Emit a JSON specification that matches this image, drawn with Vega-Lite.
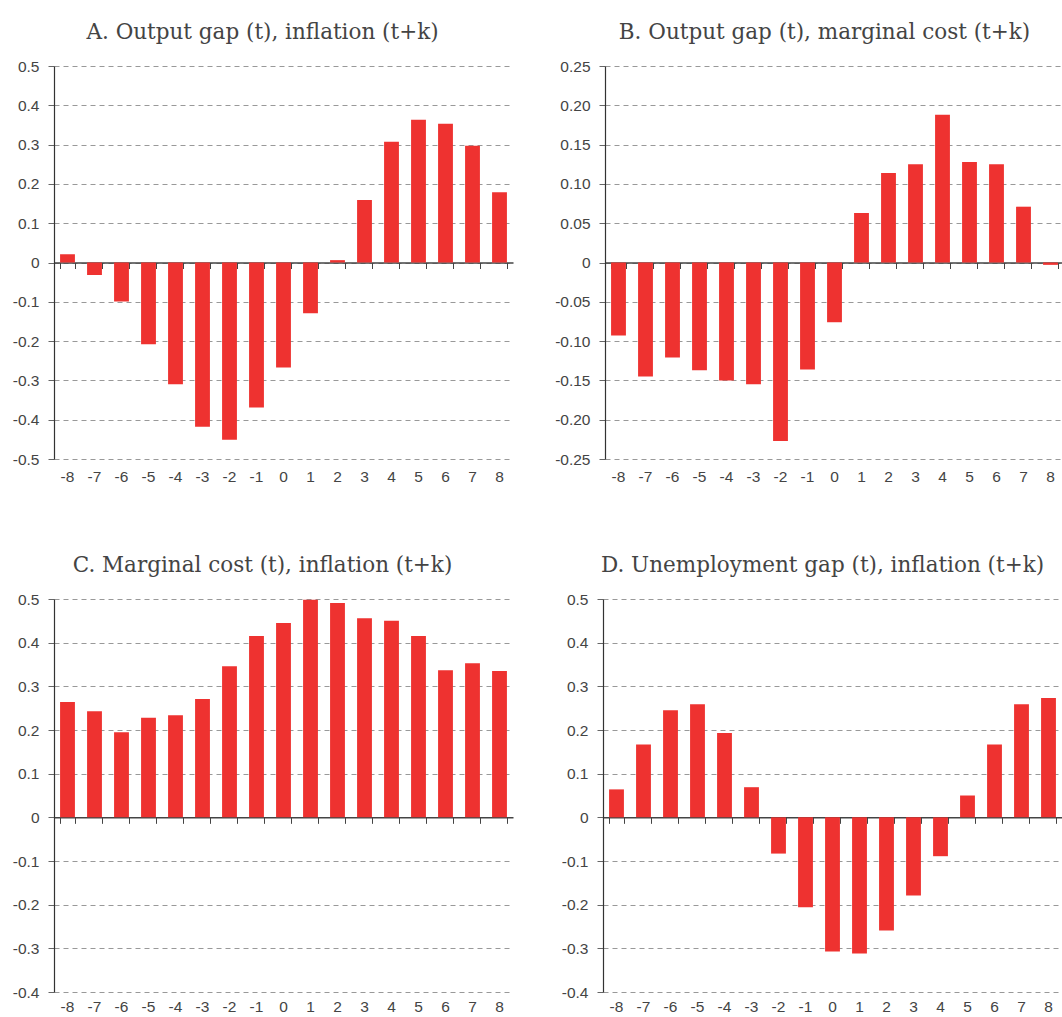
{
  "$schema": "https://vega.github.io/schema/vega-lite/v6.json",
  "padding": {"left": 12, "top": 21, "right": 0, "bottom": 0},
  "background": "white",
  "config": {
    "view": {"stroke": null},
    "font": "Liberation Sans",
    "title": {"font": "DejaVu Serif", "fontSize": 21.5, "fontWeight": "normal", "color": "#444", "anchor": "middle", "offset": 16},
    "axis": {"labelFont": "Liberation Sans", "labelFontSize": 15.5, "labelColor": "#444", "title": null, "labelOverlap": false},
    "bar": {"color": "#EE3230"}
  },
  "datasets": {
    "A": [
      {"k": "-8", "value": 0.021}, {"k": "-7", "value": -0.032}, {"k": "-6", "value": -0.099}, {"k": "-5", "value": -0.208},
      {"k": "-4", "value": -0.31}, {"k": "-3", "value": -0.418}, {"k": "-2", "value": -0.451}, {"k": "-1", "value": -0.369},
      {"k": "0", "value": -0.267}, {"k": "1", "value": -0.129}, {"k": "2", "value": 0.006}, {"k": "3", "value": 0.159},
      {"k": "4", "value": 0.307}, {"k": "5", "value": 0.363}, {"k": "6", "value": 0.353}, {"k": "7", "value": 0.297},
      {"k": "8", "value": 0.179}
    ],
    "B": [
      {"k": "-8", "value": -0.093}, {"k": "-7", "value": -0.145}, {"k": "-6", "value": -0.121}, {"k": "-5", "value": -0.137},
      {"k": "-4", "value": -0.15}, {"k": "-3", "value": -0.155}, {"k": "-2", "value": -0.227}, {"k": "-1", "value": -0.136},
      {"k": "0", "value": -0.076}, {"k": "1", "value": 0.063}, {"k": "2", "value": 0.114}, {"k": "3", "value": 0.125},
      {"k": "4", "value": 0.188}, {"k": "5", "value": 0.128}, {"k": "6", "value": 0.125}, {"k": "7", "value": 0.071},
      {"k": "8", "value": -0.003}
    ],
    "C": [
      {"k": "-8", "value": 0.264}, {"k": "-7", "value": 0.243}, {"k": "-6", "value": 0.195}, {"k": "-5", "value": 0.228},
      {"k": "-4", "value": 0.234}, {"k": "-3", "value": 0.271}, {"k": "-2", "value": 0.346}, {"k": "-1", "value": 0.415},
      {"k": "0", "value": 0.445}, {"k": "1", "value": 0.498}, {"k": "2", "value": 0.491}, {"k": "3", "value": 0.456},
      {"k": "4", "value": 0.45}, {"k": "5", "value": 0.415}, {"k": "6", "value": 0.337}, {"k": "7", "value": 0.353},
      {"k": "8", "value": 0.335}
    ],
    "D": [
      {"k": "-8", "value": 0.064}, {"k": "-7", "value": 0.167}, {"k": "-6", "value": 0.245}, {"k": "-5", "value": 0.259},
      {"k": "-4", "value": 0.193}, {"k": "-3", "value": 0.069}, {"k": "-2", "value": -0.083}, {"k": "-1", "value": -0.206},
      {"k": "0", "value": -0.307}, {"k": "1", "value": -0.312}, {"k": "2", "value": -0.259}, {"k": "3", "value": -0.179},
      {"k": "4", "value": -0.089}, {"k": "5", "value": 0.05}, {"k": "6", "value": 0.167}, {"k": "7", "value": 0.259},
      {"k": "8", "value": 0.273}
    ]
  },
  "spacing": 69,
  "vconcat": [
    {
      "spacing": 41,
      "hconcat": [
        {
          "title": {"text": "A. Output gap (t), inflation (t+k)", "dx": -21},
          "width": 459, "height": 393,
          "data": {"name": "A"},
          "resolve": {"axis": {"x": "independent"}},
          "layer": [
            {
              "mark": {"type": "bar"},
              "encoding": {
                "x": {"field": "k", "type": "ordinal", "sort": null, "scale": {"paddingInner": 0.45, "paddingOuter": 0.225},
                  "axis": {"labelAngle": 0, "ticks": false, "domain": false, "labelPadding": 10, "grid": false}},
                "y": {"field": "value", "type": "quantitative", "scale": {"domain": [-0.5, 0.5], "nice": false, "zero": false},
                  "axis": {"values": [-0.5, -0.4, -0.3, -0.2, -0.1, 0, 0.1, 0.2, 0.3, 0.4, 0.5], "tickCount": 30, "labelOverlap": false,
                    "labelExpr": "abs(datum.value) < 1e-9 ? '0' : replace(format(datum.value, '.1f'), '\u2212', '-')",
                    "grid": true, "gridDash": [5, 4], "gridColor": "#999", "domainColor": "#333", "domainWidth": 1.2, "tickColor": "#666", "tickSize": 6, "labelPadding": 9}}
              }
            },
            {
              "mark": {"type": "point", "opacity": 0},
              "encoding": {
                "x": {"field": "k", "type": "ordinal", "sort": null,
                  "axis": {"orient": "bottom", "offset": -196.5, "labels": false, "domain": true, "domainColor": "#444", "domainWidth": 1.5, "ticks": true, "tickBand": "extent", "tickSize": 6, "tickColor": "#444", "grid": false}}
              }
            }
          ]
        },
        {
          "title": {"text": "B. Output gap (t), marginal cost (t+k)", "dx": -10},
          "width": 459, "height": 393,
          "data": {"name": "B"},
          "resolve": {"axis": {"x": "independent"}},
          "layer": [
            {
              "mark": {"type": "bar"},
              "encoding": {
                "x": {"field": "k", "type": "ordinal", "sort": null, "scale": {"paddingInner": 0.45, "paddingOuter": 0.225},
                  "axis": {"labelAngle": 0, "ticks": false, "domain": false, "labelPadding": 10, "grid": false}},
                "y": {"field": "value", "type": "quantitative", "scale": {"domain": [-0.25, 0.25], "nice": false, "zero": false},
                  "axis": {"values": [-0.25, -0.2, -0.15, -0.1, -0.05, 0, 0.05, 0.1, 0.15, 0.2, 0.25], "tickCount": 30, "labelOverlap": false,
                    "labelExpr": "abs(datum.value) < 1e-9 ? '0' : replace(format(datum.value, '.2f'), '\u2212', '-')",
                    "grid": true, "gridDash": [5, 4], "gridColor": "#999", "domainColor": "#333", "domainWidth": 1.2, "tickColor": "#666", "tickSize": 6, "labelPadding": 9}}
              }
            },
            {
              "mark": {"type": "point", "opacity": 0},
              "encoding": {
                "x": {"field": "k", "type": "ordinal", "sort": null,
                  "axis": {"orient": "bottom", "offset": -196.5, "labels": false, "domain": true, "domainColor": "#444", "domainWidth": 1.5, "ticks": true, "tickBand": "extent", "tickSize": 6, "tickColor": "#444", "grid": false}}
              }
            }
          ]
        }
      ]
    },
    {
      "spacing": 48,
      "hconcat": [
        {
          "title": {"text": "C. Marginal cost (t), inflation (t+k)", "dx": -21},
          "width": 459, "height": 393,
          "data": {"name": "C"},
          "resolve": {"axis": {"x": "independent"}},
          "layer": [
            {
              "mark": {"type": "bar"},
              "encoding": {
                "x": {"field": "k", "type": "ordinal", "sort": null, "scale": {"paddingInner": 0.45, "paddingOuter": 0.225},
                  "axis": {"labelAngle": 0, "ticks": false, "domain": false, "labelPadding": 7, "grid": false}},
                "y": {"field": "value", "type": "quantitative", "scale": {"domain": [-0.4, 0.5], "nice": false, "zero": false},
                  "axis": {"values": [-0.4, -0.3, -0.2, -0.1, 0, 0.1, 0.2, 0.3, 0.4, 0.5], "tickCount": 30, "labelOverlap": false,
                    "labelExpr": "abs(datum.value) < 1e-9 ? '0' : replace(format(datum.value, '.1f'), '\u2212', '-')",
                    "grid": true, "gridDash": [5, 4], "gridColor": "#999", "domainColor": "#333", "domainWidth": 1.2, "tickColor": "#666", "tickSize": 6, "labelPadding": 9}}
              }
            },
            {
              "mark": {"type": "point", "opacity": 0},
              "encoding": {
                "x": {"field": "k", "type": "ordinal", "sort": null,
                  "axis": {"orient": "bottom", "offset": -174.67, "labels": false, "domain": true, "domainColor": "#444", "domainWidth": 1.5, "ticks": true, "tickBand": "extent", "tickSize": 6, "tickColor": "#444", "grid": false}}
              }
            }
          ]
        },
        {
          "title": {"text": "D. Unemployment gap (t), inflation (t+k)", "dx": -10},
          "width": 459, "height": 393,
          "data": {"name": "D"},
          "resolve": {"axis": {"x": "independent"}},
          "layer": [
            {
              "mark": {"type": "bar"},
              "encoding": {
                "x": {"field": "k", "type": "ordinal", "sort": null, "scale": {"paddingInner": 0.45, "paddingOuter": 0.225},
                  "axis": {"labelAngle": 0, "ticks": false, "domain": false, "labelPadding": 7, "grid": false}},
                "y": {"field": "value", "type": "quantitative", "scale": {"domain": [-0.4, 0.5], "nice": false, "zero": false},
                  "axis": {"values": [-0.4, -0.3, -0.2, -0.1, 0, 0.1, 0.2, 0.3, 0.4, 0.5], "tickCount": 30, "labelOverlap": false,
                    "labelExpr": "abs(datum.value) < 1e-9 ? '0' : replace(format(datum.value, '.1f'), '\u2212', '-')",
                    "grid": true, "gridDash": [5, 4], "gridColor": "#999", "domainColor": "#333", "domainWidth": 1.2, "tickColor": "#666", "tickSize": 6, "labelPadding": 9}}
              }
            },
            {
              "mark": {"type": "point", "opacity": 0},
              "encoding": {
                "x": {"field": "k", "type": "ordinal", "sort": null,
                  "axis": {"orient": "bottom", "offset": -174.67, "labels": false, "domain": true, "domainColor": "#444", "domainWidth": 1.5, "ticks": true, "tickBand": "extent", "tickSize": 6, "tickColor": "#444", "grid": false}}
              }
            }
          ]
        }
      ]
    }
  ]
}
